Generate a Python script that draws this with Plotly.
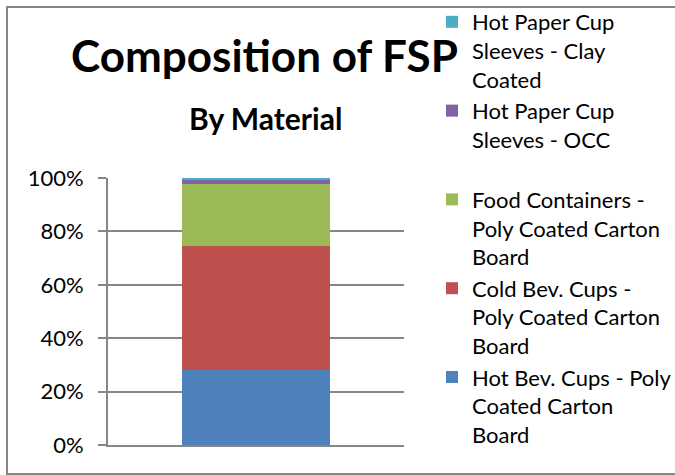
import plotly.graph_objects as go

categories = [""]
series_names = [
    "Hot Bev. Cups - Poly<br>Coated Carton<br>Board",
    "Cold Bev. Cups -<br>Poly Coated Carton<br>Board",
    "Food Containers -<br>Poly Coated Carton<br>Board",
    "Hot Paper Cup<br>Sleeves - OCC<br> ",
    "Hot Paper Cup<br>Sleeves - Clay<br>Coated",
]
series_values = [28.1, 46.5, 23.3, 1.7, 0.4]
series_colors = ["#4F81BD", "#C0504D", "#9BBB59", "#8064A2", "#4BACC6"]
tick_vals = [0, 0.2, 0.4, 0.6, 0.8, 1.0]
tick_text = ["0%", "20%", "40%", "60%", "80%", "100%"]

total = sum(series_values)
FONT = "Lato"

fig = go.Figure()
for name, val, col in zip(series_names, series_values, series_colors):
    fig.add_trace(go.Bar(x=categories, y=[val / total], name=name,
                         marker=dict(color=col, line=dict(width=0)),
                         width=0.5))

W, H = 675, 475
L, R, T, B = 108, 271, 178, 30
pw, ph = W - L - R, H - T - B

def px2x(px):
    return (px - L) / pw

def py2y(py):
    return (H - B - py) / ph

bx0, bx1 = px2x(7), px2x(700)
by0, by1 = py2y(474), py2y(7)
border_path = f"M {bx1},{by0} L {bx0},{by0} L {bx0},{by1} L {bx1},{by1}"

fig.update_layout(
    width=W, height=H,
    margin=dict(l=L, r=R, t=T, b=B, autoexpand=False),
    barmode="stack",
    paper_bgcolor="white", plot_bgcolor="white",
    font=dict(family=FONT, size=22, color="#000000"),
    showlegend=True,
    legend=dict(traceorder="reversed", xref="container", yref="container",
                x=432 / W, y=1 - 1 / H,
                xanchor="left", yanchor="top", valign="top",
                font=dict(family=FONT, size=22, color="#000000"),
                itemwidth=30, bgcolor="rgba(0,0,0,0)", maxheight=1),
    xaxis=dict(range=[-0.5, 0.5], showticklabels=False, showgrid=False,
               zeroline=False, showline=True, linecolor="#868686", linewidth=2),
    yaxis=dict(range=[0, 1], tickvals=tick_vals, ticktext=tick_text,
               showgrid=True, gridcolor="#868686", gridwidth=2,
               zeroline=False, showline=True, linecolor="#868686", linewidth=2,
               ticks="outside", ticklen=8, tickcolor="#868686", tickwidth=2,
               ticklabelstandoff=10,
               tickfont=dict(family=FONT, size=22, color="#000000")),
    annotations=[
        dict(text="<b>Composition of FSP</b>", xref="paper", yref="paper",
             x=px2x(264), y=py2y(55), xanchor="center", yanchor="middle",
             showarrow=False, font=dict(family=FONT, size=44, color="#000000")),
        dict(text="<b>By Material</b>", xref="paper", yref="paper",
             x=px2x(265), y=py2y(118), xanchor="center", yanchor="middle",
             showarrow=False, font=dict(family=FONT, size=30, color="#000000")),
    ],
    shapes=[
        dict(type="path", xref="paper", yref="paper", path=border_path,
             line=dict(color="#868686", width=2), layer="below"),
    ],
)

fig.write_html("out.html",
               config={"displayModeBar": False},
               post_script="document.body.style.margin='0';document.body.style.overflow='hidden';")
